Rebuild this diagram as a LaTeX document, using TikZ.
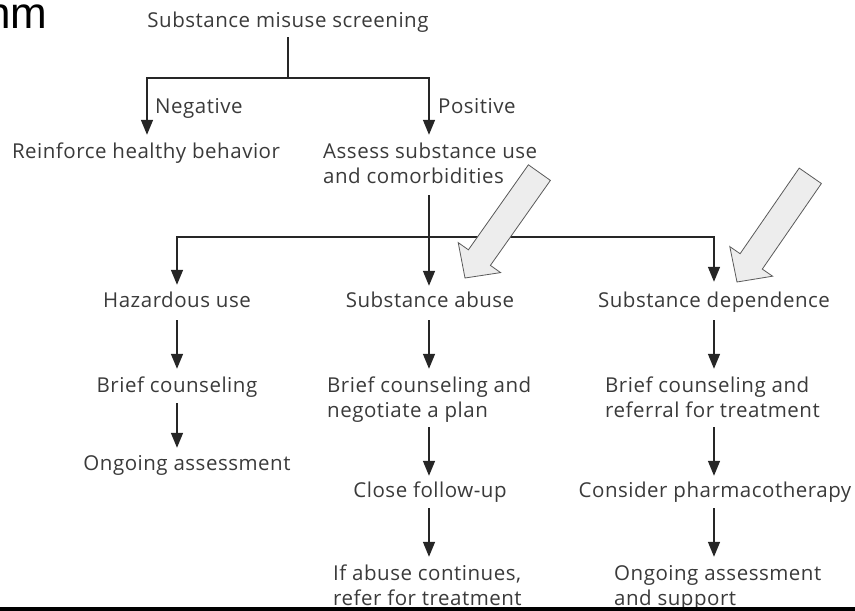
\documentclass[tikz,border=0pt]{standalone}
\usepackage{fontspec}
\setmainfont{Open Sans}[LetterSpace=2.5]
\newfontfamily\headfont{Liberation Sans}
\usetikzlibrary{arrows.meta,calc}
\definecolor{txt}{HTML}{3A3A3A}
\definecolor{lnc}{HTML}{262626}
\definecolor{blk}{HTML}{EDEDED}
\definecolor{blkline}{HTML}{5A5A5A}
\begin{document}
\begin{tikzpicture}[x=1pt,y=-1pt,
  lbl/.style={inner sep=0pt, text height=15pt, text depth=5pt, font=\fontsize{20.5}{24}\selectfont, text=txt},
  arr/.style={draw=lnc, line width=1.5pt, -{Triangle[length=15pt,width=12pt]}},
  lnk/.style={draw=lnc, line width=1.5pt},
  bigarrow/.style={fill=blk, draw=blkline, line width=0.8pt, line join=miter}]
\useasboundingbox (0,0) rectangle (855,611);
\node[anchor=base west, inner sep=0pt, font=\headfont\fontsize{44}{44}\selectfont] (hd) at (-14,28) {nm};
% text nodes
\node[lbl, anchor=base] (title) at (288,27) {Substance misuse screening};
\node[lbl, anchor=base west] (neg) at (155,113) {Negative};
\node[lbl, anchor=base west] (pos) at (438,113) {Positive};
\node[lbl, anchor=base] (rein) at (146,158) {Reinforce healthy behavior};
\node[lbl, anchor=base west] (as1) at (323,158) {Assess substance use};
\node[lbl, anchor=base west] (as2) at (323,183) {and comorbidities};
\node[lbl, anchor=base] (haz) at (177,307) {Hazardous use};
\node[lbl, anchor=base] (abu) at (430,307) {Substance abuse};
\node[lbl, anchor=base] (dep) at (714,307) {Substance dependence};
\node[lbl, anchor=base] (bc1) at (177,392) {Brief counseling};
\node[lbl, anchor=base west] (bc2a) at (327,392) {Brief counseling and};
\node[lbl, anchor=base west] (bc2b) at (327,417) {negotiate a plan};
\node[lbl, anchor=base west] (bc3a) at (605,392) {Brief counseling and};
\node[lbl, anchor=base west] (bc3b) at (605,417) {referral for treatment};
\node[lbl, anchor=base] (oa1) at (187,470) {Ongoing assessment};
\node[lbl, anchor=base] (cf) at (430,497) {Close follow-up};
\node[lbl, anchor=base] (cp) at (715,497) {Consider pharmacotherapy};
\node[lbl, anchor=base west] (ab1) at (333,580) {If abuse continues,};
\node[lbl, anchor=base west] (ab2) at (333,605) {refer for treatment};
\node[lbl, anchor=base west] (og1) at (614,580) {Ongoing assessment};
\node[lbl, anchor=base west] (og2) at (614,605) {and support};
% junctions
\coordinate (j1) at (288,78);
\coordinate (j2) at (429,237);
\coordinate (jr) at (714,237);
% connectors
\draw[lnk, shorten <=5pt] (title.south) -- (j1);
\draw[arr, shorten >=8pt] (j1) -| (rein.north -| 147,0);
\draw[arr, shorten >=8pt] (j1) -| (as1.north -| j2);
\draw[arr, shorten <=7pt, shorten >=6pt] (as2.south -| j2) -- (abu.north -| j2);
\draw[arr, shorten >=7pt] (j2) -| (haz.north);
\draw[arr, shorten >=10pt] (j2) -| (dep.north -| jr);
% left column
\draw[arr, shorten <=8pt, shorten >=8pt] (haz.south) -- (bc1.north);
\draw[arr, shorten <=6pt, shorten >=7pt] (bc1.south) -- (bc1.south |- oa1.north);
% middle column
\draw[arr, shorten <=8pt, shorten >=8pt] (abu.south -| j2) -- (bc2a.north -| j2);
\draw[arr, shorten <=5pt, shorten >=6pt] (bc2b.south -| j2) -- (cf.north -| j2);
\draw[arr, shorten <=6pt, shorten >=8pt] (cf.south -| j2) -- (ab1.north -| j2);
% right column
\draw[arr, shorten <=8pt, shorten >=8pt] (dep.south -| jr) -- (bc3a.north -| jr);
\draw[arr, shorten <=5pt, shorten >=6pt] (bc3b.south -| jr) -- (cp.north -| jr);
\draw[arr, shorten <=6pt, shorten >=8pt] (cp.south -| jr) -- (og1.north -| jr);
% block arrows
\draw[bigarrow] (465,278) -- (458.2,242.6) -- (468.4,249.8) -- (528.4,164.8) -- (550.4,180.4) -- (490.4,265.4) -- (500.6,272.6) -- cycle;
\draw[bigarrow] (737,282) -- (729.8,246.6) -- (740.1,253.7) -- (799.2,168.1) -- (821.4,183.5) -- (762.3,269.1) -- (772.6,276.2) -- cycle;
% bottom rule
\draw[line width=4pt, black] (0,608.5) -- (855,608.5);
\end{tikzpicture}
\end{document}
